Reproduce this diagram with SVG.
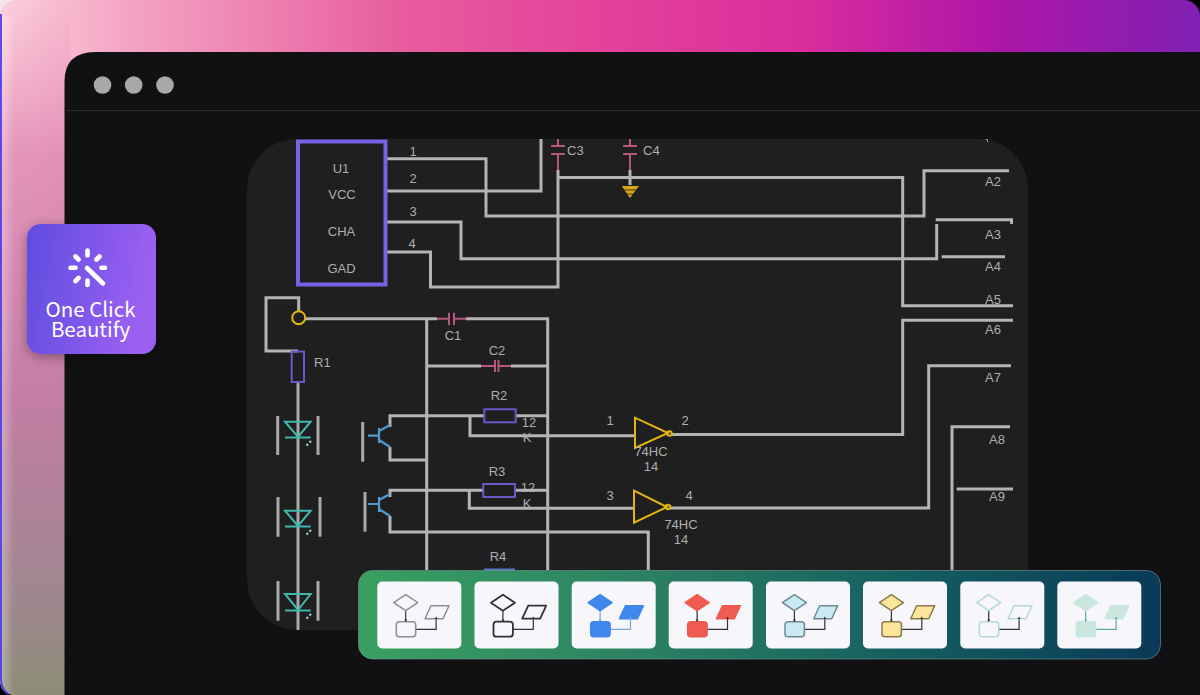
<svg xmlns="http://www.w3.org/2000/svg" xmlns:xlink="http://www.w3.org/1999/xlink" width="1200" height="695" viewBox="0 0 1200 695">
<defs>
<linearGradient id="bg" gradientUnits="userSpaceOnUse" x1="0" y1="0" x2="1200" y2="0">
<stop offset="0" stop-color="#fbd0dc"/><stop offset="0.11" stop-color="#f3a3c3"/><stop offset="0.33" stop-color="#e85e9f"/><stop offset="0.5" stop-color="#e3429a"/><stop offset="0.67" stop-color="#d92d9c"/><stop offset="0.83" stop-color="#ae16a8"/><stop offset="1" stop-color="#7f20b2"/>
</linearGradient>
<linearGradient id="bgL" gradientUnits="userSpaceOnUse" x1="0" y1="0" x2="0" y2="695">
<stop offset="0" stop-color="#e98fb6" stop-opacity="0"/><stop offset="0.22" stop-color="#d97fae" stop-opacity="0.7"/><stop offset="0.58" stop-color="#c27ea3"/><stop offset="0.85" stop-color="#a08690"/><stop offset="1" stop-color="#8d8d76"/>
</linearGradient>
<linearGradient id="hi" x1="0" y1="0" x2="1" y2="0"><stop offset="0" stop-color="#fff" stop-opacity="0.35"/><stop offset="1" stop-color="#fff" stop-opacity="0"/></linearGradient>
<linearGradient id="btn" x1="0" y1="0" x2="1" y2="0.2"><stop offset="0" stop-color="#5e4de0"/><stop offset="1" stop-color="#9c60f2"/></linearGradient>
<linearGradient id="bar" x1="0" y1="0" x2="1" y2="0"><stop offset="0" stop-color="#39a060"/><stop offset="0.35" stop-color="#2c8163"/><stop offset="0.7" stop-color="#145c60"/><stop offset="1" stop-color="#0a3a58"/></linearGradient>
<filter id="sh" x="-20%" y="-20%" width="140%" height="140%"><feDropShadow dx="0" dy="3" stdDeviation="6" flood-color="#000" flood-opacity="0.35"/></filter>
<g id="glyph">
<path class="c" d="M28.400 29.500V40M38.400 47.800H58.800V37.500"/>
<path class="n" d="M28.400 13.200L40.400 21.200L28.400 29.200L16.400 21.200Z"/>
<path class="n" d="M53.700 24.200H71.700L65.700 37.200H47.700Z"/>
<rect class="n" x="19" y="40.200" width="19.400" height="15" rx="3"/>
<path class="h" d="M26.900 38h3l-1.500 2.400zM57.300 37.400h3l-1.500-2.400z"/>
</g>
</defs>
<style>
text{font-family:"Liberation Sans",Arial,sans-serif;font-size:13px;fill:#aeaeae;text-anchor:middle;dominant-baseline:central}
.l{text-anchor:start}
.w{fill:none;stroke:#b4b4b4;stroke-width:3;stroke-linejoin:miter}
.p{fill:none;stroke:#b5577f;stroke-width:2}
.r{fill:none;stroke:#6a57c8;stroke-width:2}
.y{fill:none;stroke:#e2b512;stroke-width:2}
.t{fill:none;stroke:#41b8ad;stroke-width:2}
.b{fill:none;stroke:#4f9bd0;stroke-width:2.200}
.g{fill:none;stroke:#a9a9a9;stroke-width:3}
.card{fill:#f7f7fb}
.n{fill:var(--f);stroke:var(--s);stroke-width:var(--w,1.500);stroke-linejoin:round}
.c{fill:none;stroke:var(--c);stroke-width:1.200}
.h{fill:var(--c)}
</style>

<g id="backdrop">
<rect x="0" y="0" width="1200" height="695" fill="#000"/>
<rect x="0" y="0" width="20" height="20" fill="#f6e8ec"/>
<rect x="0" y="0" width="1200" height="695" rx="16" fill="url(#bg)"/>
<path d="M0 0H70V695H16Q0 695 0 679Z" fill="url(#bgL)"/>
<path d="M0 16H14V695H14Q0 695 0 679Z" fill="url(#hi)"/>
<path d="M1 14V679Q1 688 8 694" fill="none" stroke="#4c3cf0" stroke-width="1.800"/>
<path d="M64.500 695V82Q64.500 52 95 52H1200V695Z" fill="#111113"/>
<path d="M64.500 110.500H1200" stroke="#2b2b2d" stroke-width="1"/>
<circle cx="102.500" cy="85" r="8.800" fill="#a8a8a8"/>
<circle cx="133.700" cy="85" r="8.800" fill="#a8a8a8"/>
<circle cx="165" cy="85" r="8.800" fill="#a8a8a8"/>
</g>

<g id="panel"><rect x="247" y="139" width="781" height="491" rx="50" fill="#1f1f1f"/></g>

<g id="connectors">
<path class="w" d="M387 158.700H486V216H924V170.700H1009"/>
<path class="w" d="M387 191H541V139"/>
<path class="w" d="M387 222H461V258.700H936.700V224"/>
<path class="w" d="M935.700 219.700H1011.500V224"/>
<path class="w" d="M941.700 256.700H1005"/>
<path class="w" d="M387 252H430.500V287H558V170"/>
<path class="w" d="M558 177.500H902.700V305.700H1013"/>
<path class="w" d="M630 170V185"/>
<path class="w" d="M298.700 311V297.700H266V351H298"/>
<path class="w" d="M305 318.700H437M466 318.700H547.700V570"/>
<path class="w" d="M426.700 318.700V570"/>
<path class="w" d="M426.700 366H481M511 366H547.700"/>
<path class="w" d="M390 427V415.700H484M515.700 415.700H547.700"/>
<path class="w" d="M390 447V460H426.700"/>
<path class="w" d="M470 415.700V435.700H635"/>
<path class="w" d="M671 434.500H902.700V320.300H1013"/>
<path class="w" d="M390 497V490.300H484M515 490.300H547.700"/>
<path class="w" d="M390 516V532H648.300V570"/>
<path class="w" d="M469.300 490.300V508.300H634"/>
<path class="w" d="M670 508H928.700V365.700H1011"/>
<path class="w" d="M952 570V426.700H1010"/>
<path class="w" d="M956.700 489H1013"/>
<path class="g" d="M298 382V630"/>
<path d="M985.500 139.500H987.500V142" fill="none" stroke="#9a9a9a" stroke-width="1"/>
</g>

<g id="U1">
<rect x="298" y="141.500" width="87.500" height="143" fill="none" stroke="#7563e6" stroke-width="4"/>
<text x="341" y="168">U1</text><text x="342" y="194">VCC</text><text x="341.500" y="231">CHA</text><text x="341.500" y="268">GAD</text>
<text x="413" y="151">1</text><text x="413" y="178">2</text><text x="413" y="211">3</text><text x="412" y="243">4</text>
</g>
<g id="C3"><path class="p" d="M558 139V146M551 146H565M551 154H565M558 154V170"/><text class="l" x="567" y="150">C3</text></g>
<g id="C4"><path class="p" d="M630 139V146M623 146H637M623 154H637M630 154V170"/><text class="l" x="643" y="150">C4</text></g>
<g id="GND"><path d="M621.700 186H639L630 198Z" fill="#d9a514"/><path d="M621 190H640M623 194H637" stroke="#1f1f1f" stroke-width="0.800"/></g>
<g id="J1"><circle cx="298.700" cy="317.700" r="6.500" class="y"/></g>
<g id="R1"><rect class="r" x="291.700" y="351.500" width="12.300" height="30.500"/><text class="l" x="314" y="362">R1</text></g>
<g id="C1"><path class="p" d="M437 318.700H449M454 318.700H466M449 312.700V325M454 312.700V325"/><text x="453" y="335">C1</text></g>
<g id="C2"><path class="p" d="M481 366H495M498.500 366H511M495 360V372M498.500 360V372"/><text x="497" y="350">C2</text></g>
<g id="R2"><rect class="r" x="484.300" y="409.300" width="31.400" height="13"/><text x="499" y="395.500">R2</text><text x="529" y="422">12</text><text x="527" y="437">K</text></g>
<g id="R3"><rect class="r" x="483.300" y="484" width="31.700" height="13"/><text x="497" y="471">R3</text><text x="528" y="487">12</text><text x="527" y="503">K</text></g>
<g id="R4"><path d="M484 569.500H515" fill="none" stroke="#5a78c8" stroke-width="2"/><text x="498" y="556">R4</text></g>
<g id="Q1"><path class="g" d="M362.700 422V461.700"/><path class="b" d="M379 428V443M368 435.700H379M379 431L390 425M379 440L390 447"/></g>
<g id="Q2"><path class="g" d="M365 492V531.700"/><path class="b" d="M379 497V512M368 504H379M379 500L390 494M379 509L390 516"/></g>
<g id="U2"><path class="y" d="M635 417.700V448L668 433Z"/><circle class="y" cx="669.500" cy="433.500" r="2.300" stroke-width="1.500"/><text x="610" y="420">1</text><text x="685" y="420">2</text><text x="651" y="451">74HC</text><text x="651" y="466">14</text></g>
<g id="U3"><path class="y" d="M634 490.700V522.700L667 507Z"/><circle class="y" cx="668" cy="507" r="2.300" stroke-width="1.500"/><text x="610" y="495">3</text><text x="689" y="495">4</text><text x="681" y="524">74HC</text><text x="681" y="539">14</text></g>
<g id="D1"><path class="g" d="M277.700 416V455M318 416V455"/><path class="t" d="M285 421.700H310.700L298 437ZM285 437.500H310.700"/><path d="M306.500 445.500L308 444M309.500 442.500L311 441" fill="none" stroke="#9fdcd4" stroke-width="2"/></g>
<g id="D2"><path class="g" d="M278 497V536.700M320 497V536.700"/><path class="t" d="M285 510.700H310.700L298 526ZM285 526.500H310.700"/><path d="M306.500 534.500L308 533M309.500 531.500L311 530" fill="none" stroke="#9fdcd4" stroke-width="2"/></g>
<g id="D3"><path class="g" d="M278 581V620.700M318 581V620.700"/><path class="t" d="M285 594H310.700L298 610ZM285 610.500H310.700"/><path d="M306.500 618.500L308 617M309.500 615.500L311 614" fill="none" stroke="#9fdcd4" stroke-width="2"/></g>
<g id="labels">
<text x="993" y="181">A2</text><text x="993" y="234">A3</text><text x="993" y="266">A4</text><text x="993" y="299">A5</text><text x="993" y="329">A6</text><text x="993" y="377">A7</text><text x="997" y="439">A8</text><text x="997" y="496">A9</text>
</g>

<g id="beautify-button">
<rect x="27" y="224" width="129" height="130" rx="14" fill="url(#btn)" filter="url(#sh)"/>
<g stroke="#fff" stroke-width="4.600" stroke-linecap="round" fill="none">
<path d="M87.500 250.500V255.500M87.500 280.500V285M70.500 267.700H75.500M101.500 267.700H105M75.500 256.500L78.500 259.500M99.500 256.500L96.500 259.500M75.500 281L78.500 278"/>
<path d="M87 268L103 283.500"/>
</g>
<text style="font-family:'Noto Sans CJK SC','Noto Sans',sans-serif;font-size:20.500px;fill:#fff;dominant-baseline:auto"><tspan x="90.500" y="316.500">One Click</tspan><tspan x="90.500" y="337">Beautify</tspan></text>
</g>

<g id="style-bar">
<rect x="358.500" y="570.500" width="802" height="88.500" rx="14" fill="url(#bar)" stroke="#6f9c94" stroke-opacity="0.600" stroke-width="1"/>
<g id="style-1" transform="translate(377.300,581.500)" style="--f:#f7f7fb;--s:#8f8f8f;--c:#333"><rect class="card" width="84" height="67" rx="5"/><use xlink:href="#glyph" href="#glyph"/></g>
<g id="style-2" transform="translate(474.500,581.500)" style="--f:#f7f7fb;--s:#333;--c:#333;--w:1.800"><rect class="card" width="84" height="67" rx="5"/><use xlink:href="#glyph" href="#glyph"/></g>
<g id="style-3" transform="translate(571.700,581.500)" style="--f:#3f86ee;--s:#3f86ee;--c:#7aa4e0"><rect class="card" width="84" height="67" rx="5"/><use xlink:href="#glyph" href="#glyph"/></g>
<g id="style-4" transform="translate(668.700,581.500)" style="--f:#ef5b50;--s:#ef5b50;--c:#333"><rect class="card" width="84" height="67" rx="5"/><use xlink:href="#glyph" href="#glyph"/></g>
<g id="style-5" transform="translate(766,581.500)" style="--f:#c9eaf2;--s:#6f8a92;--c:#333"><rect class="card" width="84" height="67" rx="5"/><use xlink:href="#glyph" href="#glyph"/></g>
<g id="style-6" transform="translate(863,581.500)" style="--f:#fbe59a;--s:#8a7a48;--c:#333"><rect class="card" width="84" height="67" rx="5"/><use xlink:href="#glyph" href="#glyph"/></g>
<g id="style-7" transform="translate(960.300,581.500)" style="--f:#f7f7fb;--s:#b5d8d2;--c:#333"><rect class="card" width="84" height="67" rx="5"/><use xlink:href="#glyph" href="#glyph"/></g>
<g id="style-8" transform="translate(1057.300,581.500)" style="--f:#c9e6df;--s:#c9e6df;--c:#5fa89a"><rect class="card" width="84" height="67" rx="5"/><use xlink:href="#glyph" href="#glyph"/></g>
</g>
</svg>
